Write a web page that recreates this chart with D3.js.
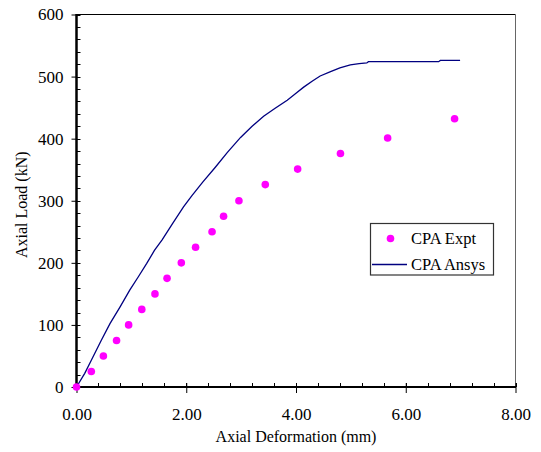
<!DOCTYPE html>
<html>
<head>
<meta charset="utf-8">
<script src="https://cdn.jsdelivr.net/npm/d3@7"></script>
<style>
  html, body { margin: 0; padding: 0; background: #fff; }
  svg { display: block; font-family: "Liberation Serif", "Times New Roman", serif; }
</style>
</head>
<body>
<svg id="chart" width="541" height="452"></svg>
<script>
// Experimental load–deformation points
const exptDeformation = [0, 0.27, 0.49, 0.73, 0.95, 1.19, 1.43, 1.65, 1.91, 2.17, 2.47, 2.68, 2.96, 3.44, 4.03, 4.81, 5.67, 6.89];
const exptLoad        = [0, 25, 50, 75, 100, 125, 150, 175, 200, 225, 250, 275, 300, 326, 351, 376, 401, 432];

// Finite element (Ansys) curve
const ansysDeformation = [0, 0.15, 0.27, 0.45, 0.61, 0.80, 0.97, 1.13, 1.28, 1.42, 1.56, 1.75, 1.95, 2.10, 2.30, 2.53, 2.75, 2.99, 3.20, 3.41, 3.62, 3.84, 4.00, 4.14, 4.30, 4.44, 4.63, 4.80, 4.99, 5.15, 5.29, 5.32, 5.54, 6.60, 6.63, 6.99];
const ansysLoad        = [0, 22, 43, 75, 102, 130, 156, 178, 199, 220, 237, 263, 290, 308, 330, 354, 378, 402, 420, 436, 449, 462, 473, 483, 493, 501, 508, 514, 519, 521, 522, 524, 524, 524, 526, 526];

const xTicks = [0, 2, 4, 6, 8];
const yTicks = [0, 100, 200, 300, 400, 500, 600];
const seriesNames = ["CPA Expt", "CPA Ansys"];

const svg = d3.select("#chart");
const plotLeft = 76.5, plotRight = 515.5, plotTop = 14.5, plotBottom = 387;
const serif = "Liberation Serif";

const x = d3.scaleLinear().domain([0, 8]).range([plotLeft, plotRight]);
const y = d3.scaleLinear().domain([0, 600]).range([plotBottom, plotTop]);

// plot frame (top and right edges)
svg.append("line").attr("x1", plotLeft).attr("x2", plotRight).attr("y1", plotTop).attr("y2", plotTop)
  .attr("stroke", "#000").attr("stroke-width", 1);
svg.append("line").attr("x1", plotRight).attr("x2", plotRight).attr("y1", plotTop).attr("y2", plotBottom)
  .attr("stroke", "#666").attr("stroke-width", 1);

// x-axis minor ticks (inside) and major ticks (crossing)
const xMinor = d3.range(0, 8.0001, 0.4);
svg.append("g").selectAll("line").data(xMinor).join("line")
  .attr("x1", d => Math.round(x(d)) + 0.5).attr("x2", d => Math.round(x(d)) + 0.5)
  .attr("y1", plotBottom - 4).attr("y2", plotBottom)
  .attr("stroke", "#000").attr("stroke-width", 1);
const xAxis = d3.axisBottom(x).tickValues(xTicks).tickFormat(d3.format(".2f")).tickSize(6).tickPadding(15);
const gx = svg.append("g").attr("transform", `translate(0,${plotBottom})`).call(xAxis);
gx.attr("font-family", serif);
gx.select(".domain").remove();
gx.selectAll(".tick line").attr("y1", -4).attr("stroke-width", 1);
gx.selectAll(".tick text").attr("font-size", 17).attr("font-family", serif).attr("fill", "#000");
svg.append("line").attr("x1", plotLeft - 1).attr("x2", plotRight + 0.5).attr("y1", plotBottom).attr("y2", plotBottom)
  .attr("stroke", "#000").attr("stroke-width", 2);

// y-axis minor ticks (inside) and major ticks
const yMinor = d3.range(0, 600.001, 20);
svg.append("g").selectAll("line").data(yMinor).join("line")
  .attr("x1", plotLeft).attr("x2", plotLeft + 4)
  .attr("y1", d => Math.round(y(d)) + 0.5).attr("y2", d => Math.round(y(d)) + 0.5)
  .attr("stroke", "#000").attr("stroke-width", 1);
const yAxis = d3.axisLeft(y).tickValues(yTicks).tickFormat(d3.format("d")).tickSize(5).tickPadding(8);
const gy = svg.append("g").attr("transform", `translate(${plotLeft},0)`).call(yAxis);
gy.attr("font-family", serif);
gy.select(".domain").remove();
gy.selectAll(".tick line").attr("stroke-width", 1);
gy.selectAll(".tick text").attr("font-size", 17).attr("font-family", serif).attr("fill", "#000");
svg.append("line").attr("x1", plotLeft).attr("x2", plotLeft).attr("y1", plotTop - 0.5).attr("y2", plotBottom + 1)
  .attr("stroke", "#000").attr("stroke-width", 2.5);

// axis titles
svg.append("text").attr("x", 296).attr("y", 442)
  .attr("text-anchor", "middle").attr("font-size", 16).text("Axial Deformation (mm)");
svg.append("text").attr("transform", `translate(27,${(plotTop + plotBottom) / 2 + 4}) rotate(-90)`)
  .attr("text-anchor", "middle").attr("font-size", 16).text("Axial Load (kN)");

// Ansys curve
const ansys = ansysDeformation.map((d, i) => [d, ansysLoad[i]]);
svg.append("path").datum(ansys)
  .attr("d", d3.line().x(d => x(d[0])).y(d => y(d[1])))
  .attr("fill", "none").attr("stroke", "#000080").attr("stroke-width", 1.3);

// experimental points
const expt = exptDeformation.map((d, i) => [d, exptLoad[i]]);
svg.append("g").selectAll("circle").data(expt).join("circle")
  .attr("cx", d => x(d[0])).attr("cy", d => y(d[1])).attr("r", 3.8)
  .attr("fill", "#ff00ff");

// legend
const lg = svg.append("g");
lg.append("rect").attr("x", 370.5).attr("y", 223.5).attr("width", 123).attr("height", 51.5)
  .attr("fill", "#fff").attr("stroke", "#333").attr("stroke-width", 1.2);
lg.append("circle").attr("cx", 390.5).attr("cy", 238.5).attr("r", 3.8).attr("fill", "#ff00ff");
lg.append("text").attr("x", 411).attr("y", 243.5).attr("font-size", 16.5).text(seriesNames[0]);
lg.append("line").attr("x1", 372).attr("x2", 407).attr("y1", 264.5).attr("y2", 264.5)
  .attr("stroke", "#000080").attr("stroke-width", 1.3);
lg.append("text").attr("x", 411).attr("y", 269.5).attr("font-size", 16.5).text(seriesNames[1]);
</script>
</body>
</html>
